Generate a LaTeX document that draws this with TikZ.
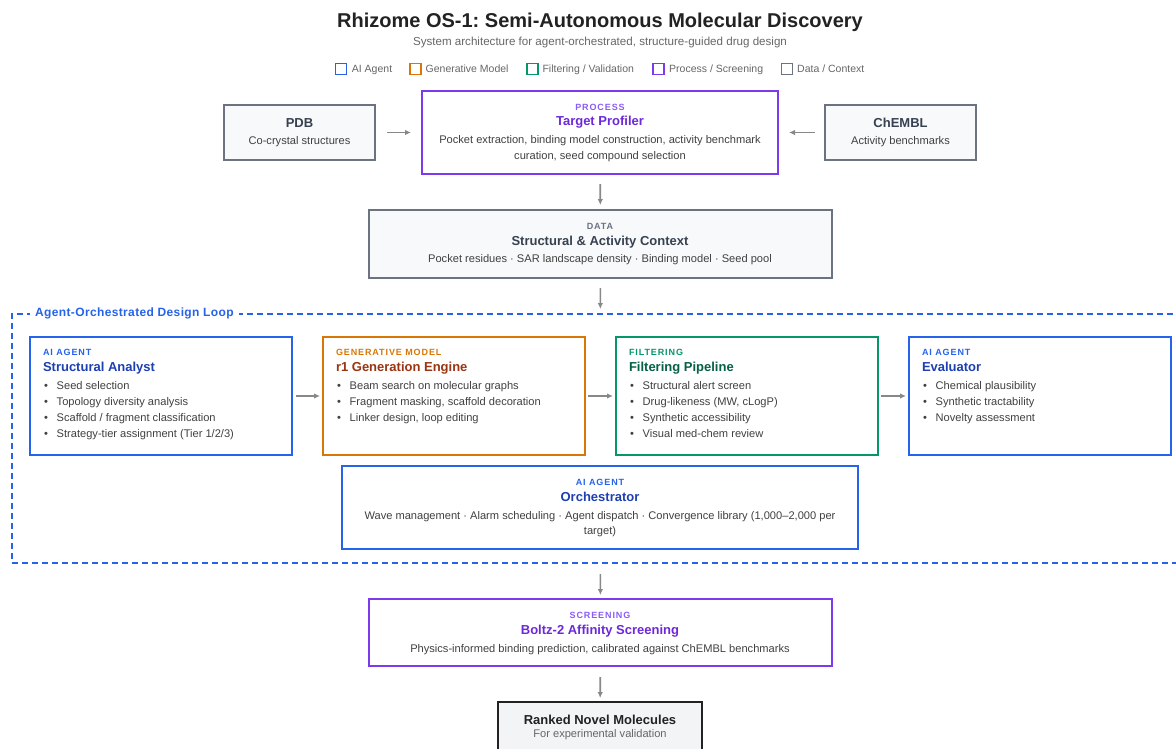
\documentclass[tikz,border=0pt]{standalone}
\usepackage{fontspec}
\setmainfont{Liberation Sans}
\newfontfamily\tagfamily[LetterSpace=10]{Liberation Sans}
\newfontfamily\loopfamily[LetterSpace=3]{Liberation Sans}
\usetikzlibrary{arrows.meta}
\frenchspacing
\definecolor{cblue}{HTML}{2563EB}
\definecolor{cbluet}{HTML}{1E40AF}
\definecolor{corange}{HTML}{D97706}
\definecolor{coranget}{HTML}{9A3412}
\definecolor{cgreen}{HTML}{059669}
\definecolor{cgreent}{HTML}{065F46}
\definecolor{cpurple}{HTML}{7C3AED}
\definecolor{cpurplel}{HTML}{8B5CF6}
\definecolor{cpurplet}{HTML}{6D28D9}
\definecolor{cgray}{HTML}{6B7280}
\definecolor{cgrayt}{HTML}{374151}
\definecolor{cgrayfill}{HTML}{F8F9FA}
\definecolor{cdark}{HTML}{222222}
\definecolor{cdarkfill}{HTML}{F3F4F6}
\definecolor{cbody}{HTML}{404040}
\definecolor{csub}{HTML}{666666}
\definecolor{carrow}{HTML}{888888}
\newcommand\fTitle{\fontsize{20}{24}\selectfont\bfseries}
\newcommand\fSub{\fontsize{11.6}{14}\selectfont}
\newcommand\fLeg{\fontsize{10.5}{13}\selectfont}
\newcommand\fTag{\tagfamily\fontsize{9}{11}\selectfont\bfseries}
\newcommand\fHead{\fontsize{13}{16}\selectfont\bfseries}
\newcommand\fBody{\fontsize{11.1}{14}\selectfont}
\newcommand\fLoop{\loopfamily\fontsize{12}{14}\selectfont\bfseries}
\newcommand\bul[1]{\makebox[13.7pt][l]{\hspace{1.2pt}\textcolor{cbody}{\textbullet}}#1}
\tikzset{
  box/.style={draw, line width=1.8pt, anchor=north west, inner sep=0pt, outer sep=0pt, fill=white},
  txt/.style={inner sep=0pt, outer sep=0pt, text=cbody, font=\fBody},
  tagt/.style={inner sep=0pt, outer sep=0pt, font=\fTag},
  headt/.style={inner sep=0pt, outer sep=0pt, font=\fHead},
  arr/.style={draw=carrow, line width=1.7pt, -{Latex[length=6pt,width=5.5pt]}},
  legsq/.style={draw, line width=1.6pt, fill=white, minimum size=11pt, inner sep=0pt},
  legt/.style={inner sep=0pt, anchor=base west, font=\fLeg, text=csub},
}
\begin{document}
\begin{tikzpicture}[x=1pt,y=-1pt]
\useasboundingbox (0,0) rectangle (1176,748);
% title
\node[inner sep=0pt, anchor=base, font=\fTitle, text=cdark] (title) at (600,27) {Rhizome OS-1: Semi-Autonomous Molecular Discovery};
\node[inner sep=0pt, anchor=base, font=\fSub, text=csub] (subtitle) at (600,45) {System architecture for agent-orchestrated, structure-guided drug design};
% legend
\node[legsq, draw=cblue] (lg1) at (341,68.8) {};
\node[legt] (lgt1) at (351.7,72.3) {AI Agent};
\node[legsq, draw=corange] (lg2) at (415.3,68.8) {};
\node[legt] (lgt2) at (425.5,72.3) {Generative Model};
\node[legsq, draw=cgreen] (lg3) at (532.3,68.8) {};
\node[legt] (lgt3) at (542.3,72.3) {Filtering / Validation};
\node[legsq, draw=cpurple] (lg4) at (658.6,68.8) {};
\node[legt] (lgt4) at (669,72.3) {Process / Screening};
\node[legsq, draw=cgray] (lg5) at (786.8,68.8) {};
\node[legt] (lgt5) at (797,72.3) {Data / Context};
% top row
\node[box, draw=cgray, fill=cgrayfill, minimum width=151pt, minimum height=55pt] (pdb) at (224,105) {};
\node[headt, anchor=base, text=cgrayt] (pdbh) at (299.5,127) {PDB};
\node[txt, anchor=base] (pdbb) at (299.5,144.5) {Co-crystal structures};
\node[box, draw=cpurple, minimum width=356pt, minimum height=83pt] (tp) at (422,91) {};
\node[tagt, anchor=base, text=cpurplel] (tpt) at (600,110.8) {PROCESS};
\node[headt, anchor=base, text=cpurplet] (tph) at (600,125.8) {Target Profiler};
\node[txt, anchor=base] (tpb1) at (600,143) {Pocket extraction, binding model construction, activity benchmark};
\node[txt, anchor=base] (tpb2) at (600,159) {curation, seed compound selection};
\node[box, draw=cgray, fill=cgrayfill, minimum width=151pt, minimum height=55pt] (chembl) at (825,105) {};
\node[headt, anchor=base, text=cgrayt] (chemblh) at (900.5,127) {ChEMBL};
\node[txt, anchor=base] (chemblb) at (900.5,144.5) {Activity benchmarks};
% data
\node[box, draw=cgray, fill=cgrayfill, minimum width=463pt, minimum height=68pt] (data) at (369,210) {};
\node[tagt, anchor=base, text=cgray] (datat) at (600,229.5) {DATA};
\node[headt, anchor=base, text=cgrayt] (datah) at (600,245.5) {Structural \& Activity Context};
\node[txt, anchor=base] (datab) at (600,262.5) {Pocket residues · SAR landscape density · Binding model · Seed pool};
% loop
\node[draw=cblue, line width=1.5pt, dash pattern=on 6pt off 4pt, anchor=north west, inner sep=0pt, outer sep=0pt, minimum width=1176pt, minimum height=249pt] (loop) at (12,314) {};
\node[inner xsep=5pt, inner ysep=2pt, fill=white, anchor=base west, font=\fLoop, text=cblue] (loopl) at (30,316) {Agent-Orchestrated Design Loop};
% structural analyst
\node[box, draw=cblue, minimum width=262pt, minimum height=118pt] (sa) at (30,337) {};
\node[tagt, anchor=base west, text=cblue] (sat) at (43,355.7) {AI AGENT};
\node[headt, anchor=base west, text=cbluet] (sah) at (43,371.7) {Structural Analyst};
\foreach \t [count=\i] in {Seed selection, Topology diversity analysis, Scaffold / fragment classification, Strategy-tier assignment (Tier 1/2/3)}
  \node[txt, anchor=base west] (sa-\i) at ({43},{389+16.2*(\i-1)}) {\bul{\t}};
% generation engine
\node[box, draw=corange, minimum width=262pt, minimum height=118pt] (ge) at (323,337) {};
\node[tagt, anchor=base west, text=corange] (get) at (336,355.7) {GENERATIVE MODEL};
\node[headt, anchor=base west, text=coranget] (geh) at (336,371.7) {r1 Generation Engine};
\foreach \t [count=\i] in {Beam search on molecular graphs, {Fragment masking, scaffold decoration}, {Linker design, loop editing}}
  \node[txt, anchor=base west] (ge-\i) at ({336},{389+16.2*(\i-1)}) {\bul{\t}};
% filtering
\node[box, draw=cgreen, minimum width=262pt, minimum height=118pt] (fp) at (616,337) {};
\node[tagt, anchor=base west, text=cgreen] (fpt) at (629,355.7) {FILTERING};
\node[headt, anchor=base west, text=cgreent] (fph) at (629,371.7) {Filtering Pipeline};
\foreach \t [count=\i] in {Structural alert screen, {Drug-likeness (MW, cLogP)}, Synthetic accessibility, Visual med-chem review}
  \node[txt, anchor=base west] (fp-\i) at ({629},{389+16.2*(\i-1)}) {\bul{\t}};
% evaluator
\node[box, draw=cblue, minimum width=262pt, minimum height=118pt] (ev) at (909,337) {};
\node[tagt, anchor=base west, text=cblue] (evt) at (922,355.7) {AI AGENT};
\node[headt, anchor=base west, text=cbluet] (evh) at (922,371.7) {Evaluator};
\foreach \t [count=\i] in {Chemical plausibility, Synthetic tractability, Novelty assessment}
  \node[txt, anchor=base west] (ev-\i) at ({922},{389+16.2*(\i-1)}) {\bul{\t}};
% orchestrator
\node[box, draw=cblue, minimum width=516pt, minimum height=83pt] (orch) at (342,466) {};
\node[tagt, anchor=base, text=cblue] (orcht) at (600,485.5) {AI AGENT};
\node[headt, anchor=base, text=cbluet] (orchh) at (600,501.3) {Orchestrator};
\node[txt, anchor=base] (orchb1) at (600,519) {Wave management · Alarm scheduling · Agent dispatch · Convergence library (1,000–2,000 per};
\node[txt, anchor=base] (orchb2) at (600,534.5) {target)};
% boltz
\node[box, draw=cpurple, minimum width=463pt, minimum height=67pt] (boltz) at (369,599) {};
\node[tagt, anchor=base, text=cpurplel] (boltzt) at (600,618.5) {SCREENING};
\node[headt, anchor=base, text=cpurplet] (boltzh) at (600,634.3) {Boltz-2 Affinity Screening};
\node[txt, anchor=base] (boltzb) at (600,652) {Physics-informed binding prediction, calibrated against ChEMBL benchmarks};
% ranked
\node[box, draw=cdark, fill=cdarkfill, minimum width=204pt, minimum height=54pt] (ranked) at (498,702) {};
\node[headt, anchor=base, text=cdark] (rankedh) at (600,724) {Ranked Novel Molecules};
\node[txt, anchor=base, text=csub] (rankedb) at (600,737.5) {For experimental validation};
% arrows
\draw[arr, shorten <=12pt, shorten >=11pt] (pdb) -- (tp);
\draw[arr, shorten <=10pt, shorten >=11pt] (chembl) -- (tp);
\draw[arr, shorten <=10pt, shorten >=5pt] (tp) -- (data);
\draw[arr, shorten <=10pt, shorten >=5pt] (data) -- (loop);
\draw[arr, shorten <=4pt, shorten >=3pt] (sa) -- (ge);
\draw[arr, shorten <=3pt, shorten >=3pt] (ge) -- (fp);
\draw[arr, shorten <=3pt, shorten >=3pt] (fp) -- (ev);
\draw[arr, shorten <=11pt, shorten >=4pt] (loop) -- (boltz);
\draw[arr, shorten <=11pt, shorten >=4pt] (boltz) -- (ranked);
\end{tikzpicture}
\end{document}
